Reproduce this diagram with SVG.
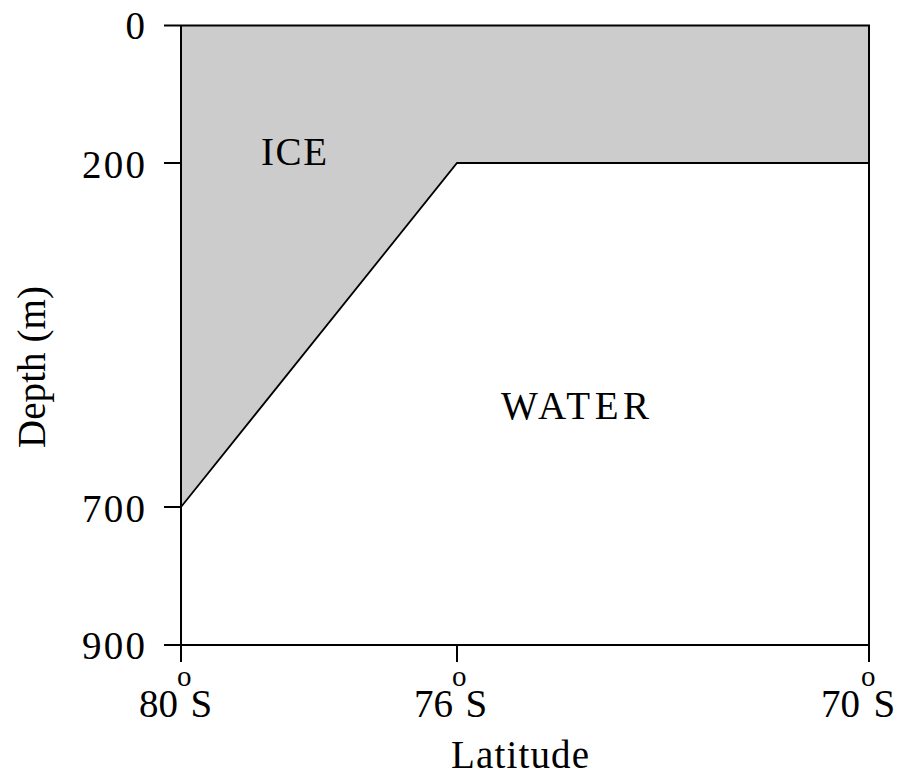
<svg xmlns="http://www.w3.org/2000/svg" width="903" height="782" viewBox="0 0 903 782">
<style>
text{font-family:"Liberation Serif","Times New Roman",serif;fill:#000}
.lbl{font-size:39px}
.sup{font-size:29px}
.ax{stroke:#000;stroke-width:2;fill:none}
</style>
<rect x="0" y="0" width="903" height="782" fill="#fff"/>
<g id="ice">
<polygon points="181,25 869,25 869,163 457,163 181,507" fill="#cccccc" stroke="none"/>
<polyline points="181,507 457,163 869,163" fill="none" stroke="#000" stroke-width="1.8"/>
<text class="lbl" x="261" y="165" textLength="66" lengthAdjust="spacing">ICE</text>
</g>
<g id="water">
<text class="lbl" x="501" y="419" textLength="148" lengthAdjust="spacing">WATER</text>
</g>
<g id="axes">
<line class="ax" x1="164" y1="25.5" x2="870" y2="25.5" stroke-width="2.5"/>
<line class="ax" x1="181" y1="25" x2="181" y2="662"/>
<line class="ax" x1="869" y1="25" x2="869" y2="662"/>
<line class="ax" x1="164" y1="645" x2="869" y2="645"/>
<line class="ax" x1="164" y1="163" x2="181" y2="163"/>
<line class="ax" x1="164" y1="507" x2="181" y2="507"/>
<line class="ax" x1="457" y1="645" x2="457" y2="662"/>
</g>
<g id="ylabels">
<text class="lbl" x="145" y="39" text-anchor="end">0</text>
<text class="lbl" x="82" y="178" textLength="63" lengthAdjust="spacing">200</text>
<text class="lbl" x="82" y="522" textLength="63" lengthAdjust="spacing">700</text>
<text class="lbl" x="82" y="659" textLength="63" lengthAdjust="spacing">900</text>
</g>
<g id="xlabels">
<text class="lbl" x="139" y="717">80<tspan class="sup" dy="-31" dx="-1">o</tspan><tspan dy="31" dx="-1">S</tspan></text>
<text class="lbl" x="414" y="717">76<tspan class="sup" dy="-31" dx="-1">o</tspan><tspan dy="31" dx="-1">S</tspan></text>
<text class="lbl" x="821" y="717">70<tspan class="sup" dy="-31" dx="1">o</tspan><tspan dy="31" dx="-2">S</tspan></text>
</g>
<g id="titles">
<text class="lbl" x="451" y="768" textLength="138" lengthAdjust="spacing">Latitude</text>
<text class="lbl" transform="translate(45,448) rotate(-90)" textLength="162" lengthAdjust="spacing">Depth (m)</text>
</g>
</svg>
